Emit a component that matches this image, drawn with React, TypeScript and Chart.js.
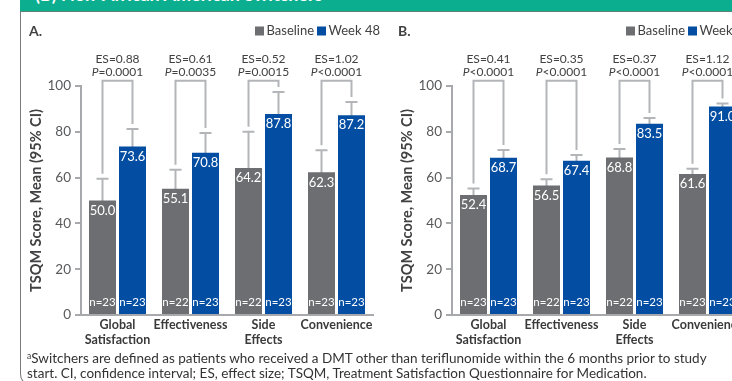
import React, { useEffect, useRef } from 'react';
import { Chart, registerables } from 'chart.js';

Chart.register(...registerables);

// ---------- data ----------
const categories: string[][] = [['Global', 'Satisfaction'], ['Effectiveness'], ['Side', 'Effects'], ['Convenience']];
const yTicks = [0, 20, 40, 60, 80, 100];
const seriesNames = ['Baseline', 'Week 48'];

// Panel A
const baselineA = [50.0, 55.1, 64.2, 62.3];
const week48A = [73.6, 70.8, 87.8, 87.2];
const baselineUpperA = [59.5, 63.4, 80.0, 71.9];
const baselineLowerA = [40.5, 46.8, 48.4, 52.7];
const week48UpperA = [81.2, 79.5, 97.4, 93.0];
const week48LowerA = [66.0, 62.1, 78.2, 81.4];
const baselineNA = [23, 22, 22, 23];
const week48NA = [23, 23, 23, 23];
const esA = ['0.88', '0.61', '0.52', '1.02'];
const pA = ['=0.0001', '=0.0035', '=0.0015', '<0.0001'];

// Panel B
const baselineB = [52.4, 56.5, 68.8, 61.6];
const week48B = [68.7, 67.4, 83.5, 91.0];
const baselineUpperB = [55.2, 59.3, 72.5, 63.9];
const baselineLowerB = [49.6, 53.7, 65.1, 59.3];
const week48UpperB = [72.1, 69.9, 86.0, 92.4];
const week48LowerB = [65.3, 64.9, 81.0, 89.6];
const baselineNB = [23, 22, 22, 23];
const week48NB = [23, 23, 23, 23];
const esB = ['0.41', '0.35', '0.37', '1.12'];
const pB = ['<0.0001', '<0.0001', '<0.0001', '<0.0001'];

const bracketLevel = 102.3;

// ---------- style ----------
const GRAY = '#6d6e71';
const BLUE = '#034ea2';
const WHISKER = '#b3b5b8';
const AXIS = '#a7a9ac';
const TEXT = '#414042';
const FONT = 'Lato, "Open Sans", sans-serif';

type PanelProps = {
  left: number;
  letter: string;
  letterX: number;
  base: number[];
  week: number[];
  baseLo: number[];
  baseHi: number[];
  weekLo: number[];
  weekHi: number[];
  baseN: number[];
  weekN: number[];
  es: string[];
  p: string[];
};

function Panel(props: PanelProps) {
  const ref = useRef<HTMLCanvasElement>(null);
  useEffect(() => {
    const p = props;
    const plugin = {
      id: 'tsqmDecor',
      beforeDatasetsDraw(chart: any) {
        const ctx = chart.ctx;
        const ys = chart.scales.y;
        ctx.save();
        ctx.strokeStyle = WHISKER;
        ctx.lineWidth = 2;
        const groups = [[p.baseLo, p.baseHi], [p.weekLo, p.weekHi]];
        groups.forEach(([lo, hi], di) => {
          chart.getDatasetMeta(di).data.forEach((bar: any, i: number) => {
            const x = bar.x;
            const y1 = ys.getPixelForValue(lo[i]);
            const y2 = ys.getPixelForValue(hi[i]);
            ctx.beginPath();
            ctx.moveTo(x, y1);
            ctx.lineTo(x, y2);
            ctx.moveTo(x - 6, y2);
            ctx.lineTo(x + 6, y2);
            ctx.moveTo(x - 6, y1);
            ctx.lineTo(x + 6, y1);
            ctx.stroke();
          });
        });
        ctx.restore();
      },
      afterDatasetsDraw(chart: any) {
        const ctx = chart.ctx;
        const ys = chart.scales.y;
        const b0 = chart.getDatasetMeta(0).data;
        const b1 = chart.getDatasetMeta(1).data;
        ctx.save();
        // value labels and n labels
        ctx.fillStyle = '#ffffff';
        ctx.textAlign = 'center';
        ctx.textBaseline = 'middle';
        [[b0, p.base, p.baseN], [b1, p.week, p.weekN]].forEach(([bars, vals, ns]: any) => {
          bars.forEach((bar: any, i: number) => {
            ctx.font = `13px ${FONT}`;
            ctx.fillText(vals[i].toFixed(1), bar.x, bar.y + 10);
            ctx.font = `11.5px ${FONT}`;
            ctx.fillText(`n=${ns[i]}`, bar.x, bar.base - 12);
          });
        });
        // brackets
        const by = ys.getPixelForValue(bracketLevel);
        ctx.strokeStyle = WHISKER;
        ctx.lineWidth = 2;
        for (let i = 0; i < b0.length; i++) {
          const xl = b0[i].x;
          const xr = b1[i].x;
          const yl = ys.getPixelForValue(p.baseHi[i]) - 5;
          const yr = ys.getPixelForValue(p.weekHi[i]) - 5;
          ctx.beginPath();
          ctx.moveTo(xl, yl);
          ctx.lineTo(xl, by);
          ctx.lineTo(xr, by);
          ctx.lineTo(xr, yr);
          ctx.stroke();
          // ES / P text
          const cx = (xl + xr) / 2;
          ctx.fillStyle = TEXT;
          ctx.textBaseline = 'middle';
          ctx.textAlign = 'center';
          ctx.font = `12px ${FONT}`;
          ctx.fillText(`ES=${p.es[i]}`, cx, by - 22);
          ctx.font = `italic 12px ${FONT}`;
          const wP = ctx.measureText('P').width;
          ctx.font = `12px ${FONT}`;
          const wR = ctx.measureText(p.p[i]).width;
          const x0 = cx - (wP + wR) / 2;
          ctx.textAlign = 'left';
          ctx.font = `italic 12px ${FONT}`;
          ctx.fillText('P', x0, by - 9);
          ctx.font = `12px ${FONT}`;
          ctx.fillText(p.p[i], x0 + wP, by - 9);
        }
        ctx.restore();
      },
      afterDraw(chart: any) {
        const ctx = chart.ctx;
        const ca = chart.chartArea;
        ctx.save();
        // panel letter
        ctx.fillStyle = TEXT;
        ctx.textBaseline = 'middle';
        ctx.textAlign = 'left';
        ctx.font = `bold 14px ${FONT}`;
        ctx.fillText(p.letter, p.letterX, 31);
        // legend
        const colors = [GRAY, BLUE];
        const xs = [255, 317];
        ctx.font = `13px ${FONT}`;
        seriesNames.forEach((name, i) => {
          ctx.fillStyle = colors[i];
          ctx.fillRect(xs[i], 26.5, 9, 9);
          ctx.fillStyle = TEXT;
          ctx.fillText(name, xs[i] + 11.5, 31);
        });
        // y title
        ctx.translate(36, (ca.top + ca.bottom) / 2);
        ctx.rotate(-Math.PI / 2);
        ctx.textAlign = 'center';
        ctx.font = `bold 14.5px ${FONT}`;
        ctx.fillText('TSQM Score, Mean (95% CI)', 0, 0);
        ctx.restore();
      },
    };

    const chart = new Chart(ref.current as HTMLCanvasElement, {
      type: 'bar',
      data: {
        labels: categories as any,
        datasets: [
          { label: seriesNames[0], data: p.base, backgroundColor: GRAY, borderWidth: 0 },
          { label: seriesNames[1], data: p.week, backgroundColor: BLUE, borderWidth: 0 },
        ],
      },
      options: {
        animation: false,
        responsive: false,
        devicePixelRatio: 1,
        datasets: { bar: { categoryPercentage: 60 / 73, barPercentage: 0.9 } },
        layout: { padding: { top: 86, right: 7, left: 0, bottom: 0 } },
        plugins: { legend: { display: false }, tooltip: { enabled: false } },
        scales: {
          x: {
            ticks: {
              color: '#3a3a3a',
              font: { family: FONT, size: 12.5, weight: 'bold', lineHeight: 1.15 },
              padding: 3,
              maxRotation: 0,
              minRotation: 0,
              autoSkip: false,
            },
            grid: { display: false, drawTicks: false },
            border: { display: true, color: AXIS, width: 2 },
            afterFit: (s: any) => { s.height = 35; },
          },
          y: {
            min: 0,
            max: 100,
            afterBuildTicks: (s: any) => { s.ticks = yTicks.map((v) => ({ value: v })); },
            ticks: { color: '#58595b', font: { family: FONT, size: 13.5 }, padding: 4 },
            grid: { drawOnChartArea: false, drawTicks: true, tickLength: 6, color: AXIS, lineWidth: 2 },
            border: { display: true, color: AXIS, width: 2 },
            afterFit: (s: any) => { s.width = 81; },
          },
        },
      } as any,
      plugins: [plugin],
    });
    return () => chart.destroy();
  }, []);
  return (
    <canvas
      ref={ref}
      width={380}
      height={350}
      style={{ position: 'absolute', left: props.left, top: 0, width: 380, height: 350 }}
    />
  );
}

export default function App() {
  return (
    <div
      style={{
        position: 'fixed',
        left: 0,
        top: 0,
        width: 732,
        height: 381,
        overflow: 'hidden',
        background: '#ffffff',
        fontFamily: FONT,
      }}
    >
      <div
        style={{
          position: 'absolute',
          left: 20,
          top: 0,
          width: 800,
          height: 386,
          borderLeft: '1px solid #7a7a7a',
          borderBottom: '1px solid #7a7a7a',
          borderBottomLeftRadius: 12,
          boxSizing: 'border-box',
        }}
      />
      <Panel
        left={0}
        letter="A."
        letterX={29}
        base={baselineA}
        week={week48A}
        baseLo={baselineLowerA}
        baseHi={baselineUpperA}
        weekLo={week48LowerA}
        weekHi={week48UpperA}
        baseN={baselineNA}
        weekN={week48NA}
        es={esA}
        p={pA}
      />
      <Panel
        left={371}
        letter="B."
        letterX={27}
        base={baselineB}
        week={week48B}
        baseLo={baselineLowerB}
        baseHi={baselineUpperB}
        weekLo={week48LowerB}
        weekHi={week48UpperB}
        baseN={baselineNB}
        weekN={week48NB}
        es={esB}
        p={pB}
      />
      <div
        style={{
          position: 'absolute',
          left: 20,
          top: 0,
          width: 712,
          height: 11,
          background: '#0bae8f',
          borderBottom: '1px solid #5f8279',
          overflow: 'hidden',
        }}
      >
        <div
          style={{
            position: 'absolute',
            left: 15,
            top: -15,
            color: '#ffffff',
            fontWeight: 'bold',
            fontSize: 18,
            lineHeight: '18px',
            whiteSpace: 'nowrap',
          }}
        >
          (B) Non-African American Switchers
        </div>
      </div>
      <div
        style={{
          position: 'absolute',
          left: 27,
          top: 349,
          color: '#333333',
          fontSize: 13.5,
          lineHeight: '15px',
          whiteSpace: 'nowrap',
        }}
      >
        <span style={{ fontSize: 8.5, verticalAlign: 4 }}>a</span>Switchers are defined as patients who received a DMT other than teriflunomide within the 6 months prior to study
        <br />
        start. CI, confidence interval; ES, effect size; TSQM, Treatment Satisfaction Questionnaire for Medication.
      </div>
    </div>
  );
}
